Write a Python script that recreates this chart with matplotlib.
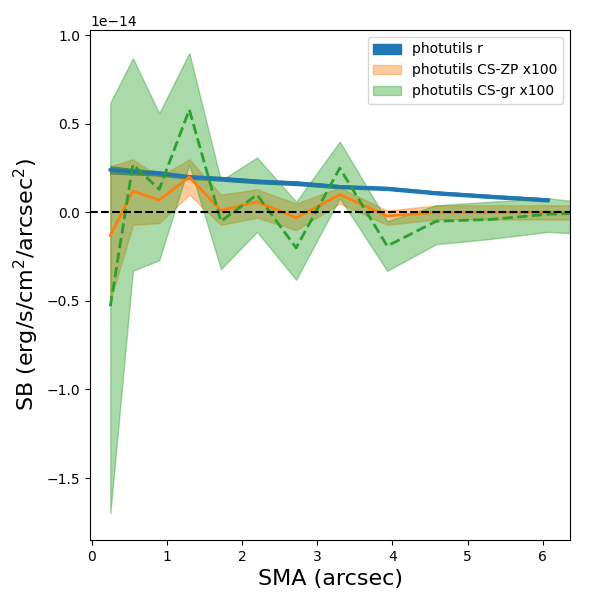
import matplotlib
matplotlib.use("Agg")
import matplotlib.pyplot as plt
import numpy as np

SCALE = 1e-14
sma = np.array([0.25, 0.55, 0.9, 1.3, 1.72, 2.2, 2.72, 3.3, 3.93, 4.58, 5.3, 6.07, 6.9])

r_sb = np.array([0.24, 0.23, 0.22, 0.20, 0.19, 0.175, 0.165, 0.145, 0.135, 0.11, 0.09, 0.07])
r_err = np.array([0.02, 0.015, 0.012, 0.01, 0.01, 0.01, 0.01, 0.008, 0.008, 0.008, 0.008, 0.008])

zp_sb = np.array([-0.13, 0.12, 0.07, 0.20, 0.01, 0.06, -0.03, 0.10, -0.02, 0.0, 0.0, 0.0, 0.0])
zp_hi = np.array([0.26, 0.30, 0.20, 0.30, 0.10, 0.13, 0.05, 0.14, 0.01, 0.04, 0.04, 0.04, 0.04])
zp_lo = np.array([-0.50, -0.07, -0.06, 0.10, -0.07, -0.03, -0.10, 0.05, -0.07, -0.04, -0.04, -0.04, -0.04])

gr_sb = np.array([-0.53, 0.27, 0.13, 0.58, -0.05, 0.10, -0.20, 0.25, -0.19, -0.05, -0.04, -0.01, 0.0])
gr_hi = np.array([0.62, 0.87, 0.56, 0.90, 0.18, 0.31, 0.06, 0.40, -0.05, 0.04, 0.06, 0.08, 0.04])
gr_lo = np.array([-1.70, -0.33, -0.27, 0.27, -0.32, -0.11, -0.38, 0.08, -0.33, -0.18, -0.15, -0.11, -0.13])

fig, ax = plt.subplots(figsize=(6, 6), dpi=100)
n = len(r_sb)
ax.fill_between(sma[:n], (r_sb - r_err) * SCALE, (r_sb + r_err) * SCALE,
                color="tab:blue", label="photutils r")
ax.plot(sma[:n], r_sb * SCALE, color="tab:blue", lw=2.5)
ax.fill_between(sma, zp_lo * SCALE, zp_hi * SCALE, color="tab:orange", alpha=0.4,
                label="photutils CS-ZP x100")
ax.plot(sma, zp_sb * SCALE, color="tab:orange", lw=2)
ax.fill_between(sma, gr_lo * SCALE, gr_hi * SCALE, color="tab:green", alpha=0.4,
                label="photutils CS-gr x100")
ax.plot(sma, gr_sb * SCALE, color="tab:green", lw=2, ls="--")
ax.axhline(0, color="black", ls="--", lw=1.5)

ax.set_xlim(-0.02, 6.36)
ax.set_ylim(-1.85e-14, 1.03e-14)
ax.set_xlabel("SMA (arcsec)", fontsize=16)
ax.set_ylabel("SB (erg/s/cm$^2$/arcsec$^2$)", fontsize=16)
ax.legend(loc="upper right")
fig.subplots_adjust(left=0.15, right=0.95, bottom=0.1, top=0.95)
fig.savefig("out.png")
